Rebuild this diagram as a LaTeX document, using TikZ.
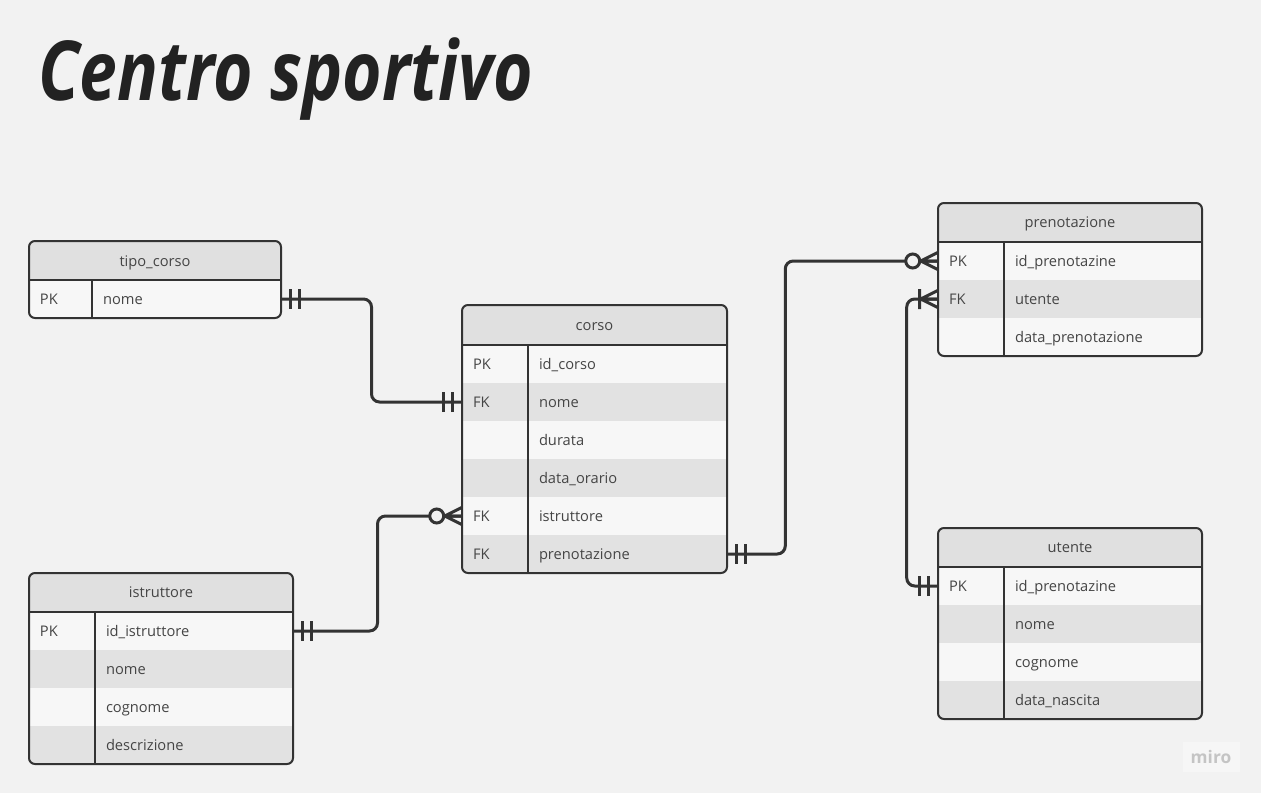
\documentclass[tikz,border=0pt]{standalone}
\usepackage{fontspec}
\setmainfont{Open Sans}
\usetikzlibrary{calc}
\definecolor{bg}{HTML}{F2F2F2}
\definecolor{hdr}{HTML}{E0E0E0}
\definecolor{rowa}{HTML}{F7F7F7}
\definecolor{rowb}{HTML}{E2E2E2}
\definecolor{ink}{HTML}{333333}
\definecolor{txt}{HTML}{454545}
\definecolor{titleink}{HTML}{222222}
\definecolor{logoink}{HTML}{C4C4C4}
\definecolor{logobg}{HTML}{F6F6F6}

\begin{document}
\begin{tikzpicture}[x=0.75pt,y=-0.75pt,
  every node/.style={font=\fontsize{11}{12}\selectfont, text=txt},
  frame/.style={draw=ink, line width=1.5pt, rounded corners=4.5pt},
  rule/.style={draw=ink, line width=1.5pt},
  row/.style={rectangle, inner sep=0, minimum height=28.5pt},
  celltxt/.style={anchor=base west, inner sep=0, yshift=-3.9pt},
  hdrtxt/.style={anchor=base, inner sep=0, yshift=-3.9pt},
  link/.style={draw=ink, line width=2.25pt, rounded corners=6pt},
  endmark/.style={draw=ink, line width=2.25pt},
  onlyone/.pic={\draw[endmark] (9,-10) -- (9,10) (18,-10) -- (18,10);},
  zeromany/.pic={\draw[endmark] (0,-8.5) -- (17,0) -- (0,8.5) (0,0) -- (17,0);
                 \draw[endmark, fill=bg] (25,0) circle (7);},
  onemany/.pic={\draw[endmark] (0,-8.5) -- (17,0) -- (0,8.5) (0,0) -- (17,0) (18,-10) -- (18,10);}]

\fill[bg] (0,0) rectangle (1261,793);
\useasboundingbox (0,0) rectangle (1261,793);

\node[anchor=south west, inner sep=0, text=titleink] (title) at (38,121)
  {\resizebox*{371pt}{62pt}{\bfseries\itshape Centro sportivo}};

% tipo_corso
\begin{scope}
  \clip[rounded corners=4.5pt] (29,241) rectangle (281,318);
  \fill[hdr] (29,241) rectangle (281,280);
  \foreach \k/\key/\field/\col in {1/PK/nome/rowa}{
    \node[row, fill=\col, minimum width=189pt] (tipo-\k) at (155,261+38*\k) {};
    \node[celltxt] at ([xshift=8.25pt]tipo-\k.west) {\key};
    \node[celltxt] at ([xshift=55.5pt]tipo-\k.west) {\field};
  }
\end{scope}
\draw[frame] (29,241) rectangle (281,318);
\draw[rule] (29,280) -- (281,280) (92,280) -- (92,318);
\node[hdrtxt] (tipo) at (155,261) {tipo\_corso};

% corso
\begin{scope}
  \clip[rounded corners=4.5pt] (462,305) rectangle (727,573);
  \fill[hdr] (462,305) rectangle (727,345);
  \foreach \k/\key/\field/\col in {1/PK/id\_corso/rowa, 2/FK/nome/rowb, 3//durata/rowa,
      4//data\_orario/rowb, 5/FK/istruttore/rowa, 6/FK/prenotazione/rowb}{
    \node[row, fill=\col, minimum width=198.75pt] (corso-\k) at (594.5,326+38*\k) {};
    \node[celltxt] at ([xshift=8.25pt]corso-\k.west) {\key};
    \node[celltxt] at ([xshift=57.75pt]corso-\k.west) {\field};
  }
\end{scope}
\draw[frame] (462,305) rectangle (727,573);
\draw[rule] (462,345) -- (727,345) (528,345) -- (528,573);
\node[hdrtxt] (corso) at (594.5,325) {corso};

% istruttore
\begin{scope}
  \clip[rounded corners=4.5pt] (29,573) rectangle (293,764);
  \fill[hdr] (29,573) rectangle (293,612);
  \foreach \k/\key/\field/\col in {1/PK/id\_istruttore/rowa, 2//nome/rowb,
      3//cognome/rowa, 4//descrizione/rowb}{
    \node[row, fill=\col, minimum width=198pt] (istr-\k) at (161,593+38*\k) {};
    \node[celltxt] at ([xshift=8.25pt]istr-\k.west) {\key};
    \node[celltxt] at ([xshift=57.75pt]istr-\k.west) {\field};
  }
\end{scope}
\draw[frame] (29,573) rectangle (293,764);
\draw[rule] (29,612) -- (293,612) (95,612) -- (95,764);
\node[hdrtxt] (istr) at (161,592) {istruttore};

% prenotazione
\begin{scope}
  \clip[rounded corners=4.5pt] (938,203) rectangle (1202,356);
  \fill[hdr] (938,203) rectangle (1202,242);
  \foreach \k/\key/\field/\col in {1/PK/id\_prenotazine/rowa, 2/FK/utente/rowb,
      3//data\_prenotazione/rowa}{
    \node[row, fill=\col, minimum width=198pt] (pren-\k) at (1070,223+38*\k) {};
    \node[celltxt] at ([xshift=8.25pt]pren-\k.west) {\key};
    \node[celltxt] at ([xshift=57.75pt]pren-\k.west) {\field};
  }
\end{scope}
\draw[frame] (938,203) rectangle (1202,356);
\draw[rule] (938,242) -- (1202,242) (1004,242) -- (1004,356);
\node[hdrtxt] (pren) at (1070,222) {prenotazione};

% utente
\begin{scope}
  \clip[rounded corners=4.5pt] (938,528) rectangle (1202,719);
  \fill[hdr] (938,528) rectangle (1202,567);
  \foreach \k/\key/\field/\col in {1/PK/id\_prenotazine/rowa, 2//nome/rowb,
      3//cognome/rowa, 4//data\_nascita/rowb}{
    \node[row, fill=\col, minimum width=198pt] (ute-\k) at (1070,548+38*\k) {};
    \node[celltxt] at ([xshift=8.25pt]ute-\k.west) {\key};
    \node[celltxt] at ([xshift=57.75pt]ute-\k.west) {\field};
  }
\end{scope}
\draw[frame] (938,528) rectangle (1202,719);
\draw[rule] (938,567) -- (1202,567) (1004,567) -- (1004,719);
\node[hdrtxt] (ute) at (1070,547) {utente};

% relations
\draw[link] (tipo-1.east) -| ($(tipo-1.east)!0.5!(corso-2.west)$) |- (corso-2.west);
\draw[link] (istr-1.east) -| ($(istr-1.east)!0.5!(corso-5.west)$) |- (corso-5.west);
\draw[link] (corso-6.east) -- ++(58,0) |- (pren-1.west);
\draw[link] (pren-2.west) -- ++(-31,0) |- (ute-1.west);

\pic at (tipo-1.east) {onlyone};
\pic[rotate=180] at (corso-2.west) {onlyone};
\pic at (istr-1.east) {onlyone};
\pic[rotate=180] at (corso-5.west) {zeromany};
\pic at (corso-6.east) {onlyone};
\pic[rotate=180] at (pren-1.west) {zeromany};
\pic[rotate=180] at (pren-2.west) {onemany};
\pic[rotate=180] at (ute-1.west) {onlyone};

\node[fill=logobg, minimum width=42.75pt, minimum height=22.5pt, text=logoink,
  font=\bfseries\fontsize{13}{13}\selectfont] (logo) at (1211,757) {miro};
\end{tikzpicture}
\end{document}
